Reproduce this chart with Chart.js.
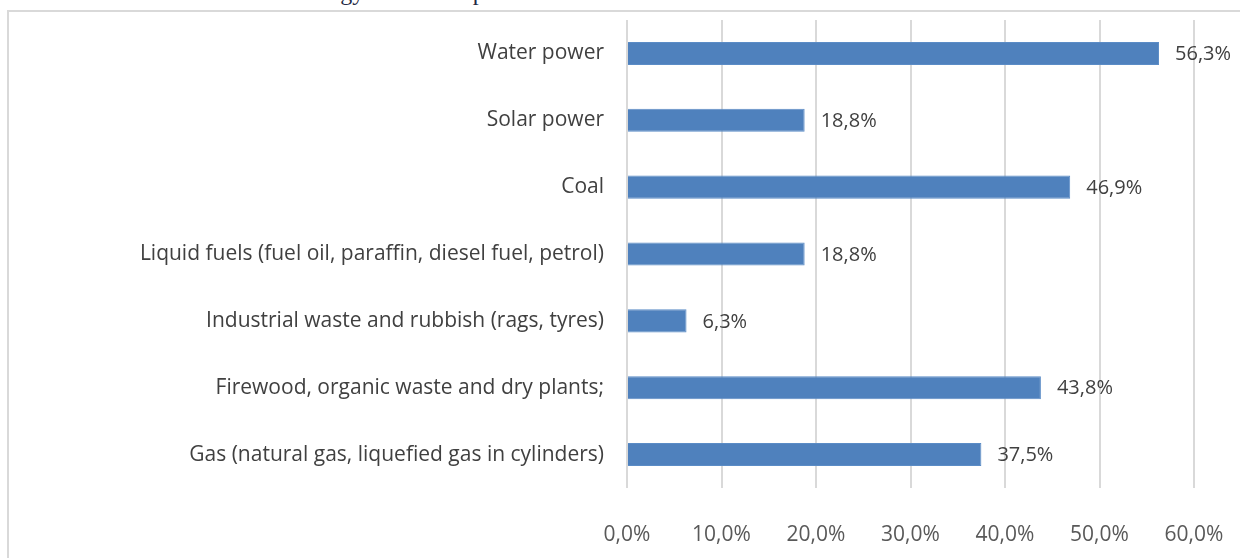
<!DOCTYPE html>
<html>
<head>
<meta charset="utf-8">
<script src="https://cdn.jsdelivr.net/npm/chart.js@4.4.1/dist/chart.umd.min.js"></script>
<style>
    html, body { margin: 0; padding: 0; background: #fff; }
    body { width: 1240px; height: 558px; position: relative; overflow: hidden; }
    #title {
        position: absolute; left: 192px; top: -22px; line-height: 28px;
        font-family: "Liberation Serif", "DejaVu Serif", serif; font-size: 24px; color: #1f2a44;
        white-space: nowrap;
    }
    #frame {
        position: absolute; left: 7px; top: 10px; width: 1260px; height: 580px;
        border: 2px solid #d9d9d9; box-sizing: border-box; background: #fff;
    }
    #wrap { position: absolute; left: 0; top: 0; width: 1240px; height: 558px; }
</style>
</head>
<body>
<div id="title">The use of energy sources in production</div>
<div id="frame"></div>
<div id="wrap"><canvas id="energyChart"></canvas></div>
<script>
    const categories = [
        'Water power',
        'Solar power',
        'Coal',
        'Liquid fuels (fuel oil, paraffin, diesel fuel, petrol)',
        'Industrial waste and rubbish (rags, tyres)',
        'Firewood, organic waste and dry plants;',
        'Gas (natural gas, liquefied gas in cylinders)'
    ];
    const shares = [56.3, 18.8, 46.9, 18.8, 6.3, 43.8, 37.5];
    const tickValues = [0, 10, 20, 30, 40, 50, 60];

    function pct(v) {
        return v.toFixed(1).replace('.', ',') + '%';
    }

    // value labels at the end of each bar
    const barLabels = {
        id: 'barLabels',
        afterDatasetsDraw(chart) {
            const ctx = chart.ctx;
            const meta = chart.getDatasetMeta(0);
            ctx.save();
            ctx.font = '20px "Open Sans"';
            ctx.fillStyle = '#404040';
            ctx.textAlign = 'left';
            ctx.textBaseline = 'middle';
            meta.data.forEach(function (bar, i) {
                ctx.fillText(pct(shares[i]), bar.x + 16, bar.y + 1);
            });
            ctx.restore();
        }
    };

    const ctx = document.getElementById('energyChart');
    new Chart(ctx, {
        type: 'bar',
        data: {
            labels: categories,
            datasets: [{
                data: shares,
                backgroundColor: '#4f81bd',
                borderColor: '#5b8cc6',
                borderWidth: 1,
                categoryPercentage: 1,
                barPercentage: 0.345
            }]
        },
        options: {
            indexAxis: 'y',
            responsive: true,
            maintainAspectRatio: false,
            animation: false,
            layout: { padding: { top: 20, right: 46, left: 0, bottom: 0 } },
            plugins: {
                legend: { display: false },
                tooltip: { enabled: false }
            },
            scales: {
                x: {
                    min: 0,
                    max: 60,
                    afterBuildTicks: function (scale) {
                        scale.ticks = tickValues.map(function (v) { return { value: v }; });
                    },
                    afterFit: function (scale) {
                        scale.height = 70;
                        scale.paddingLeft = 0;
                        scale.paddingRight = 0;
                    },
                    border: { display: false },
                    grid: { color: '#d9d9d9', lineWidth: 2, drawTicks: false },
                    ticks: {
                        padding: 34,
                        color: '#595959',
                        font: { family: 'Open Sans', size: 21 },
                        callback: function (v) { return pct(v); }
                    }
                },
                y: {
                    afterFit: function (scale) {
                        scale.width = 627;
                        scale.paddingTop = 0;
                        scale.paddingBottom = 0;
                    },
                    border: { display: false },
                    grid: { display: false, drawTicks: false },
                    ticks: {
                        padding: 23,
                        color: '#404040',
                        font: { family: 'Open Sans', size: 21 }
                    }
                }
            }
        },
        plugins: [barLabels]
    });
</script>
</body>
</html>
